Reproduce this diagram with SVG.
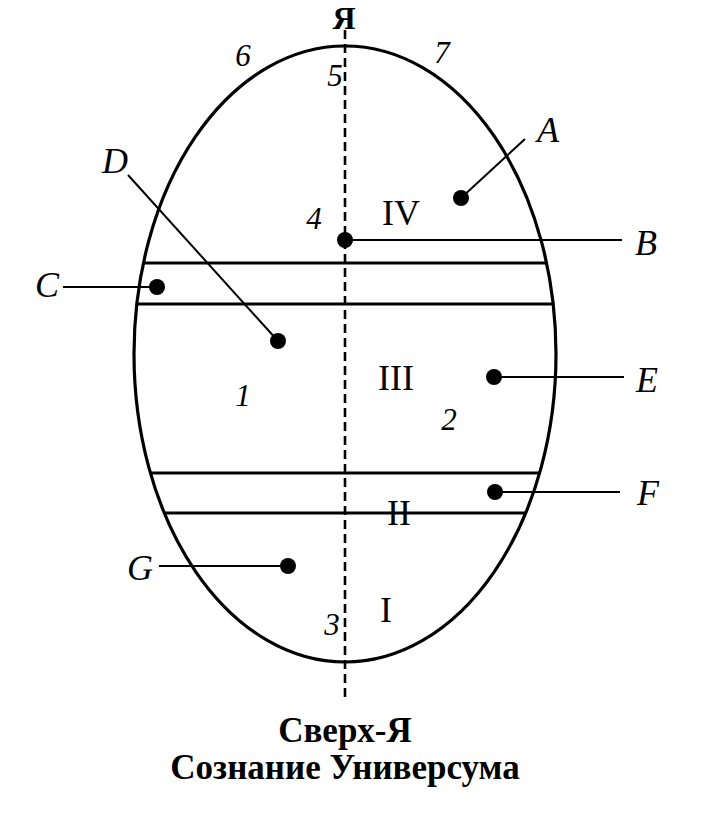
<svg xmlns="http://www.w3.org/2000/svg" width="710" height="826" viewBox="0 0 710 826">
<style>
.bg{fill:#fff}
.egg{fill:none;stroke:#000;stroke-width:3.2}
.band{stroke:#000;stroke-width:3;fill:none}
.axis{stroke:#000;stroke-width:2.6;stroke-dasharray:9 5;fill:none}
.lead{stroke:#000;stroke-width:2;fill:none}
.dot{fill:#000}
.lbl{font-family:"Liberation Serif","Times New Roman",serif;font-style:italic;font-size:36px;fill:#000;text-anchor:middle}
.num{font-family:"Liberation Serif","Times New Roman",serif;font-style:italic;font-size:31px;fill:#000;text-anchor:middle}
.rom{font-family:"Liberation Serif","Times New Roman",serif;font-size:36px;fill:#000;text-anchor:middle}
.cap{font-family:"Liberation Serif","Times New Roman",serif;font-size:35px;font-weight:bold;fill:#000;text-anchor:middle}
</style>
<rect class="bg" x="0" y="0" width="710" height="826"/>
<g id="egg">
<ellipse class="egg" cx="345" cy="354" rx="211" ry="308"/>
<line class="band" x1="143.4" y1="263" x2="546.6" y2="263"/>
<line class="band" x1="136.8" y1="304" x2="553.2" y2="304"/>
<line class="band" x1="150.4" y1="473" x2="539.6" y2="473"/>
<line class="band" x1="164.3" y1="513" x2="525.7" y2="513"/>
</g>
<g id="connectors">
<line class="axis" x1="345" y1="30" x2="345" y2="702"/>
<line class="lead" x1="525" y1="139" x2="461" y2="198"/>
<line class="lead" x1="345" y1="240" x2="622" y2="240"/>
<line class="lead" x1="63" y1="287" x2="157" y2="287"/>
<line class="lead" x1="128" y1="175" x2="278" y2="341"/>
<line class="lead" x1="494" y1="377" x2="624" y2="377"/>
<line class="lead" x1="495" y1="492" x2="620" y2="492"/>
<line class="lead" x1="159" y1="566" x2="288" y2="566"/>
</g>
<g id="node-A"><circle class="dot" cx="461" cy="198" r="8"/><text class="lbl" x="548" y="142">A</text></g>
<g id="node-B"><circle class="dot" cx="345" cy="240" r="8"/><text class="lbl" x="646" y="255">B</text></g>
<g id="node-C"><circle class="dot" cx="157" cy="287" r="8"/><text class="lbl" x="47" y="297">C</text></g>
<g id="node-D"><circle class="dot" cx="278" cy="341" r="8"/><text class="lbl" x="115" y="173">D</text></g>
<g id="node-E"><circle class="dot" cx="494" cy="377" r="8"/><text class="lbl" x="647" y="392">E</text></g>
<g id="node-F"><circle class="dot" cx="495" cy="492" r="8"/><text class="lbl" x="648" y="505">F</text></g>
<g id="node-G"><circle class="dot" cx="288" cy="566" r="8"/><text class="lbl" x="140" y="580">G</text></g>
<g id="numbers">
<text class="num" x="243" y="66">6</text>
<text class="num" x="442" y="63">7</text>
<text class="num" x="335" y="86">5</text>
<text class="num" x="314" y="229">4</text>
<text class="num" x="243" y="406">1</text>
<text class="num" x="449" y="430">2</text>
<text class="num" x="332" y="635">3</text>
</g>
<g id="zones">
<text class="rom" x="401" y="225">IV</text>
<text class="rom" x="396" y="390">III</text>
<text class="rom" x="399" y="525">II</text>
<text class="rom" x="386" y="622">I</text>
</g>
<g id="titles">
<text class="cap" x="344" y="29" style="font-size:32px">Я</text>
<text class="cap" x="345" y="742">Сверх-Я</text>
<text class="cap" x="345" y="779">Сознание Универсума</text>
</g>
</svg>
